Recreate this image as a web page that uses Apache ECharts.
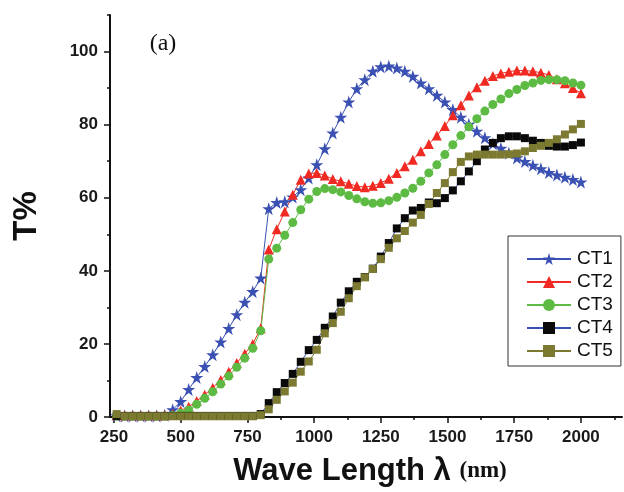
<!DOCTYPE html>
<html>
<head>
<meta charset="utf-8">
<script src="https://cdn.jsdelivr.net/npm/echarts@6/dist/echarts.min.js"></script>
<style>
html,body{margin:0;padding:0;background:#fff;}
#chart{width:624px;height:492px;}
</style>
</head>
<body>
<div id="chart"></div>
<script>
// Data
var wavelength = [260,290,320,350,380,410,440,470,500,530,560,590,620,650,680,710,740,770,800,
  830,860,890,920,950,980,1010,1040,1070,1100,1130,1160,1190,1220,1250,1280,1310,1340,1370,1400,
  1430,1460,1490,1520,1550,1580,1610,1640,1670,1700,1730,1760,1790,1820,1850,1880,1910,1940,1970,2000];

var ct1 = [0.3,0.3,0.3,0.3,0.3,0.3,0.5,2.0,4.2,7.5,10.8,13.8,17.0,20.5,24.2,28.0,31.4,34.3,38.0,
  57.0,58.7,58.9,60.2,62.2,65.4,69.0,73.4,77.7,82.0,86.2,89.8,92.3,94.6,95.8,96.0,95.5,94.6,93.2,91.4,
  89.8,88.0,86.2,84.1,82.0,80.1,78.2,76.4,74.8,73.5,72.2,70.9,69.9,68.9,67.9,66.9,66.2,65.6,65.0,64.3];

var ct2 = [0.5,0.5,0.5,0.5,0.5,0.5,0.5,0.8,1.8,2.8,4.4,6.1,8.0,10.1,12.4,14.8,17.3,20.0,24.3,
  45.8,51.4,56.2,60.8,64.9,66.6,66.8,66.1,65.1,64.5,63.8,63.2,62.9,63.3,64.0,65.2,66.8,68.6,70.4,72.7,
  74.7,77.0,79.6,82.6,85.3,88.0,90.2,92.0,93.3,94.0,94.5,94.8,94.8,94.6,94.2,93.6,92.4,91.3,90.0,88.6];

var ct3 = [0.2,0.2,0.2,0.2,0.2,0.2,0.2,0.4,1.0,1.9,3.5,5.1,6.9,9.0,11.2,13.6,16.1,18.8,23.6,
  43.2,46.2,49.7,53.2,56.7,59.6,61.7,62.5,62.2,61.6,60.6,59.7,58.9,58.5,58.6,59.2,60.1,61.3,62.6,64.5,
  66.8,69.0,71.8,74.5,77.0,79.4,81.6,83.7,85.5,87.0,88.5,89.6,90.7,91.4,92.1,92.3,92.3,92.0,91.4,90.8];

var ct4 = [0.3,0.3,0.3,0.3,0.3,0.3,0.3,0.3,0.3,0.3,0.3,0.3,0.3,0.3,0.3,0.3,0.3,0.3,0.8,
  3.8,6.8,9.3,11.8,15.1,18.3,21.1,24.4,27.5,31.3,34.4,37.0,38.3,40.6,43.9,47.6,51.6,54.4,56.5,57.2,
  58.7,58.5,59.9,62.0,64.5,67.2,70.0,73.2,75.0,76.3,76.8,76.8,76.3,75.6,75.0,74.2,74.0,74.0,74.4,75.1];

var ct5 = [0.8,0.2,0.2,0.2,0.2,0.2,0.2,0.2,0.2,0.2,0.2,0.2,0.2,0.2,0.2,0.2,0.2,0.2,0.5,
  2.1,4.7,7.0,9.4,12.4,15.2,18.4,22.9,25.7,28.8,32.5,35.8,38.2,40.5,43.2,46.3,48.9,50.9,53.2,55.3,
  58.3,61.3,64.0,67.0,69.8,71.3,71.8,71.8,71.8,71.8,71.9,72.1,72.7,73.6,74.2,75.0,76.0,77.3,78.7,80.2];

var seriesNames = ['CT1','CT2','CT3','CT4','CT5'];
var xMajorTicks = [250,500,750,1000,1250,1500,1750,2000];
var xMinorTicks = [375,625,875,1125,1375,1625,1875,2125];
var yMajorTicks = [0,20,40,60,80,100];
var yMinorTicks = [10,30,50,70,90,110];

function pairs(xs, ys){ return xs.map(function(x,i){ return [x, ys[i]]; }); }

var STAR = 'path://M50,0 L61.2,34.5 L97.6,34.5 L68.2,55.9 L79.4,90.5 L50,69.1 L20.6,90.5 L31.8,55.9 L2.4,34.5 L38.8,34.5 Z';

var blue = '#3A50B2', red = '#F02A22', green = '#5DBB44', black = '#0A0A0A', olive = '#7B7A30';

var chart = echarts.init(document.getElementById('chart'), null, {renderer:'canvas'});

function mkSeries(name, data, symbol, size, markerColor, lineColor){
  return {
    name: name, type: 'line', data: pairs(wavelength, data),
    xAxisIndex: 0, yAxisIndex: 0,
    symbol: symbol, symbolSize: size, showSymbol: true,
    lineStyle: {color: lineColor, width: 1},
    itemStyle: {color: markerColor, borderWidth: 0},
    emphasis: {disabled: true},
    animation: false
  };
}

var axisFont = {fontFamily: 'Liberation Sans, Arial, sans-serif', fontWeight: 'bold', fontSize: 17, color: '#1a1a1a'};

chart.setOption({
  backgroundColor: '#ffffff',
  animation: false,
  grid: {left: 110, right: 2, top: 15, bottom: 75, containLabel: false},
  xAxis: [{
    type: 'value', min: 235, max: 2154,
    axisLine: {show: true, onZero: false, lineStyle: {color: '#111', width: 2}},
    axisTick: {show: true, inside: false, length: 6, lineStyle: {color: '#111', width: 1.5}, customValues: xMajorTicks},
    axisLabel: Object.assign({show: true, margin: 12, customValues: xMajorTicks,
      formatter: function(v){ return String(v); }}, axisFont),
    splitLine: {show: false}
  },{
    type: 'value', min: 235, max: 2154, position: 'bottom',
    axisLine: {show: false},
    axisTick: {show: true, inside: false, length: 3, lineStyle: {color: '#111', width: 1.5}, customValues: xMinorTicks},
    axisLabel: {show: false},
    splitLine: {show: false}
  }],
  yAxis: [{
    type: 'value', min: 0, max: 110,
    axisLine: {show: true, onZero: false, lineStyle: {color: '#111', width: 2}},
    axisTick: {show: true, inside: false, length: 6, lineStyle: {color: '#111', width: 1.5}, customValues: yMajorTicks},
    axisLabel: Object.assign({show: true, margin: 12, customValues: yMajorTicks,
      formatter: function(v){ return String(v); }}, axisFont),
    splitLine: {show: false}
  },{
    type: 'value', min: 0, max: 110, position: 'left',
    axisLine: {show: false},
    axisTick: {show: true, inside: false, length: 3, lineStyle: {color: '#111', width: 1.5}, customValues: yMinorTicks},
    axisLabel: {show: false},
    splitLine: {show: false}
  }],
  legend: {
    show: true, orient: 'vertical', left: 508, top: 236,
    data: seriesNames,
    itemWidth: 44, itemHeight: 15, itemGap: 3,
    padding: [13, 8, 5, 18],
    borderColor: '#333', borderWidth: 1, borderRadius: 0,
    textStyle: {fontFamily: 'Liberation Sans, Arial, sans-serif', fontSize: 19, lineHeight: 20, color: '#111', padding: [0,0,0,1]},
    selectedMode: false
  },
  series: [
    mkSeries('CT1', ct1, STAR, 13, blue, blue),
    mkSeries('CT2', ct2, 'triangle', 10, red, red),
    mkSeries('CT3', ct3, 'circle', 9, green, green),
    mkSeries('CT4', ct4, 'rect', 8, black, blue),
    mkSeries('CT5', ct5, 'rect', 8, olive, olive)
  ],
  graphic: [
    {type: 'text', x: 27, y: 216, rotation: Math.PI/2,
     style: {text: 'T%', font: 'bold 33px "Liberation Sans", Arial, sans-serif', fill: '#111', textAlign: 'center', textVerticalAlign: 'middle'}},
    {type: 'text', x: 370, y: 471,
     style: {text: '{a|Wave Length λ }{b|(nm)}', textAlign: 'center', textVerticalAlign: 'middle',
       rich: {
         a: {font: 'bold 31px "Liberation Sans", Arial, sans-serif', fill: '#111'},
         b: {font: 'bold 23px "Liberation Serif", "Times New Roman", serif', fill: '#111'}
       }}},
    {type: 'text', x: 163, y: 44,
     style: {text: '(a)', font: '24px "Liberation Serif", "Times New Roman", serif', fill: '#111', textAlign: 'center', textVerticalAlign: 'middle'}}
  ]
});
</script>
</body>
</html>
